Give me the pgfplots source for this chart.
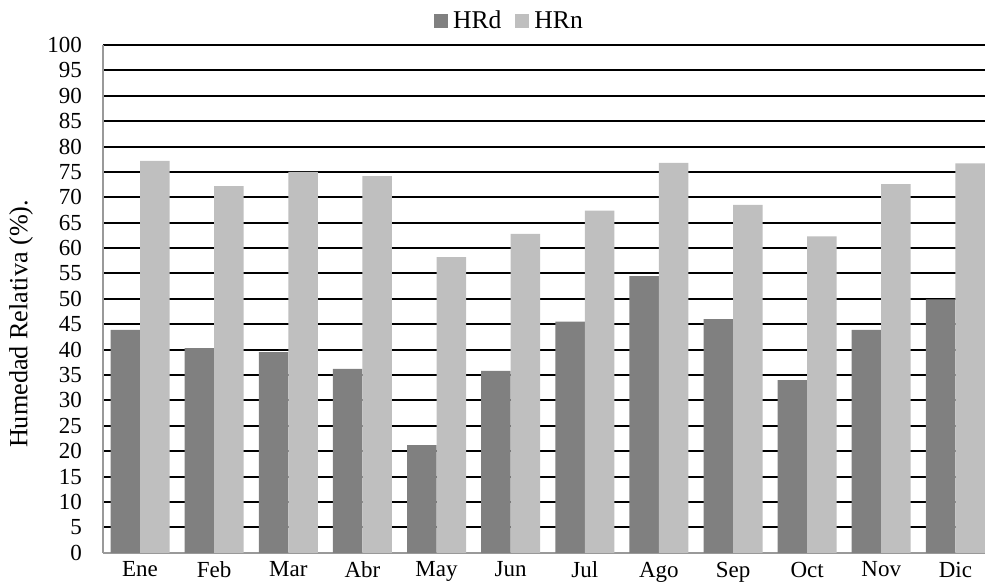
\documentclass[border=0pt]{standalone}
\usepackage{fontspec}
\setmainfont{Liberation Serif}
\usepackage{pgfplots}
\pgfplotsset{compat=1.18}
\definecolor{hrd}{RGB}{128,128,128}
\definecolor{hrn}{RGB}{191,191,191}
\begin{document}
\begin{tikzpicture}
\begin{axis}[
  name=ax,
  scale only axis,
  width=441pt, height=253.9pt,
  ybar=0pt, bar width=14.75pt,
  xmin=-0.5, xmax=11.4,
  ymin=0, ymax=100,
  ytick={0,5,...,100},
  xtick={0,...,11},
  xticklabels={Ene,Feb,Mar,Abr,May,Jun,Jul,Ago,Sep,Oct,Nov,Dic},
  major tick length=0pt,
  axis x line*=bottom, axis y line*=left,
  axis line style={draw=gray!80, line width=1pt, -},
  ymajorgrids, major grid style={black, line width=1pt},
  tick label style={font=\fontsize{11.5}{13.8}\selectfont},
  /pgf/number format/assume math mode=true,
  yticklabel style={xshift=-7pt},
  xticklabel style={yshift=-1pt},
  ylabel={Humedad Relativa (\%).},
  every axis y label/.style={at={(rel axis cs:0,0.5)}, xshift=-41pt, yshift=-12.5pt, rotate=90, anchor=center, font=\fontsize{13.1}{15}\selectfont},
  legend columns=2,
  legend style={draw=none, fill=none, at={(0.462,1.047)}, anchor=center, font=\fontsize{12.8}{15}\selectfont,
    /tikz/every even column/.append style={column sep=5pt},
    /tikz/every odd column/.append style={column sep=0.5pt}},
  legend image code/.code={\fill[#1,draw=none] (0pt,-3.5pt) rectangle (7pt,3.5pt);},
  clip=true,
]
\addplot[fill=hrd, draw=none] coordinates {
(0,43.9) (1,40.3) (2,39.5) (3,36.2) (4,21.2) (5,35.8) (6,45.5) (7,54.5) (8,46.0) (9,34.0) (10,43.9) (11,49.9)};
\addplot[fill=hrn, draw=none] coordinates {
(0,77.2) (1,72.2) (2,75.0) (3,74.2) (4,58.2) (5,62.8) (6,67.4) (7,76.8) (8,68.5) (9,62.3) (10,72.6) (11,76.7)};
\legend{HRd,HRn}
\end{axis}
\pgfresetboundingbox
\path[use as bounding box] ([xshift=-51.5pt,yshift=-14.15pt]ax.south west) rectangle ([yshift=22.5pt]ax.north east);
\end{tikzpicture}
\end{document}
